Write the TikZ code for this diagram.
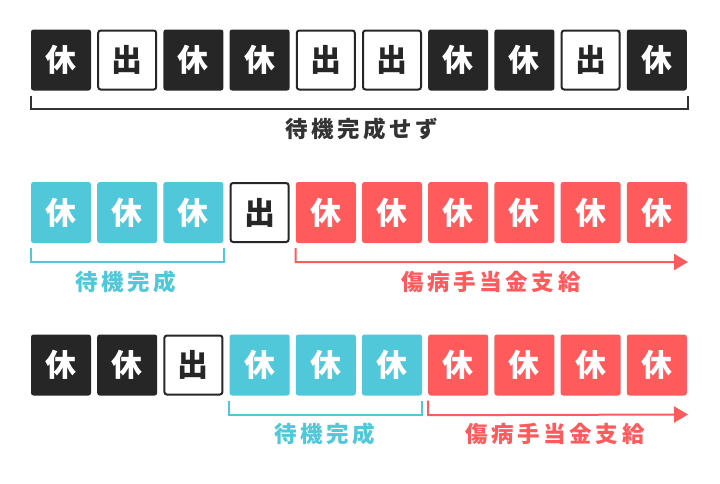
\documentclass[tikz,border=0pt]{standalone}
\usepackage{fontspec}
\setmainfont{Noto Sans CJK JP}
\usetikzlibrary{arrows.meta,calc}
\definecolor{dk}{HTML}{262626}
\definecolor{lbl}{HTML}{333333}
\definecolor{cy}{HTML}{50C8D9}
\definecolor{rd}{HTML}{FF5A5C}
\tikzset{
  box/.style={minimum width=60, minimum height=61, rounded corners=2.5, inner sep=0, font=\fontsize{31}{31}\selectfont\bfseries},
  kyu/.style={box, fill=dk, text=white},
  shu/.style={box, fill=white, draw=dk, line width=2, minimum width=58, minimum height=59, text=dk},
  tai/.style={box, fill=cy, text=white},
  sho/.style={box, fill=rd, text=white},
  brk/.style={line width=2},
  lab/.style={font=\fontsize{22.5}{22.5}\selectfont\bfseries\addfontfeatures{LetterSpace=16}, inner sep=0}
}
\begin{document}
\begin{tikzpicture}[x=1pt,y=-1pt]
\useasboundingbox (0,0) rectangle (720,483);
\fill[white] (0,0) rectangle (720,483);
% row 1
\foreach \s [count=\i from 0] in {kyu,shu,kyu,kyu,shu,shu,kyu,kyu,shu,kyu}{
  \pgfmathsetmacro{\xx}{61+66.2*\i}
  \ifnum\pdfstrcmp{\s}{shu}=0
    \node[\s] (a\i) at (\xx,60) {出};
  \else
    \node[\s] (a\i) at (\xx,60) {休};
  \fi
}
% row 2
\foreach \s [count=\i from 0] in {tai,tai,tai,shu,sho,sho,sho,sho,sho,sho}{
  \pgfmathsetmacro{\xx}{61+66.2*\i}
  \ifnum\pdfstrcmp{\s}{shu}=0
    \node[\s] (b\i) at (\xx,212.5) {出};
  \else
    \node[\s] (b\i) at (\xx,212.5) {休};
  \fi
}
% row 3
\foreach \s [count=\i from 0] in {kyu,kyu,shu,tai,tai,tai,sho,sho,sho,sho}{
  \pgfmathsetmacro{\xx}{61+66.2*\i}
  \ifnum\pdfstrcmp{\s}{shu}=0
    \node[\s] (c\i) at (\xx,365) {出};
  \else
    \node[\s] (c\i) at (\xx,365) {休};
  \fi
}
% row 1 bracket
\coordinate (a9r) at ($(a9.south east)+(1,0)$);
\draw[brk, lbl] ($(a0.south west)+(0,5.5)$) -- ($(a0.south west)+(0,18.5)$) -| ($(a9r)+(0,5.5)$);
\node[lab, text=lbl] (t1) at (362,129) {待機完成せず};
% row 2
\draw[brk, cy] ($(b0.south west)+(0,5)$) -- ($(b0.south west)+(0,19)$) -| ($(b2.south east)+(0,5)$);
\coordinate (b2end) at (688,262);
\draw[brk, rd, -{Triangle[length=14,width=16]}] ($(b4.south west)+(0,5)$) -- ($(b4.south west)+(0,19)$) -- (b2end);
\node[lab, text=cy] (t2) at (126,282) {待機完成};
\node[lab, text=rd] (t3) at (491,282) {傷病手当金支給};
% row 3
\draw[brk, cy] ($(c3.south west)+(0,5)$) -- ($(c3.south west)+(0,19)$) -| ($(c5.south east)+(0,5)$);
\coordinate (c3end) at (688,414.5);
\draw[brk, rd, -{Triangle[length=14,width=16]}] ($(c6.south west)+(0,5)$) -- ($(c6.south west)+(0,19.5)$) -- (c3end);
\node[lab, text=cy] (t4) at (325,434) {待機完成};
\node[lab, text=rd] (t5) at (555,434) {傷病手当金支給};
\end{tikzpicture}
\end{document}
